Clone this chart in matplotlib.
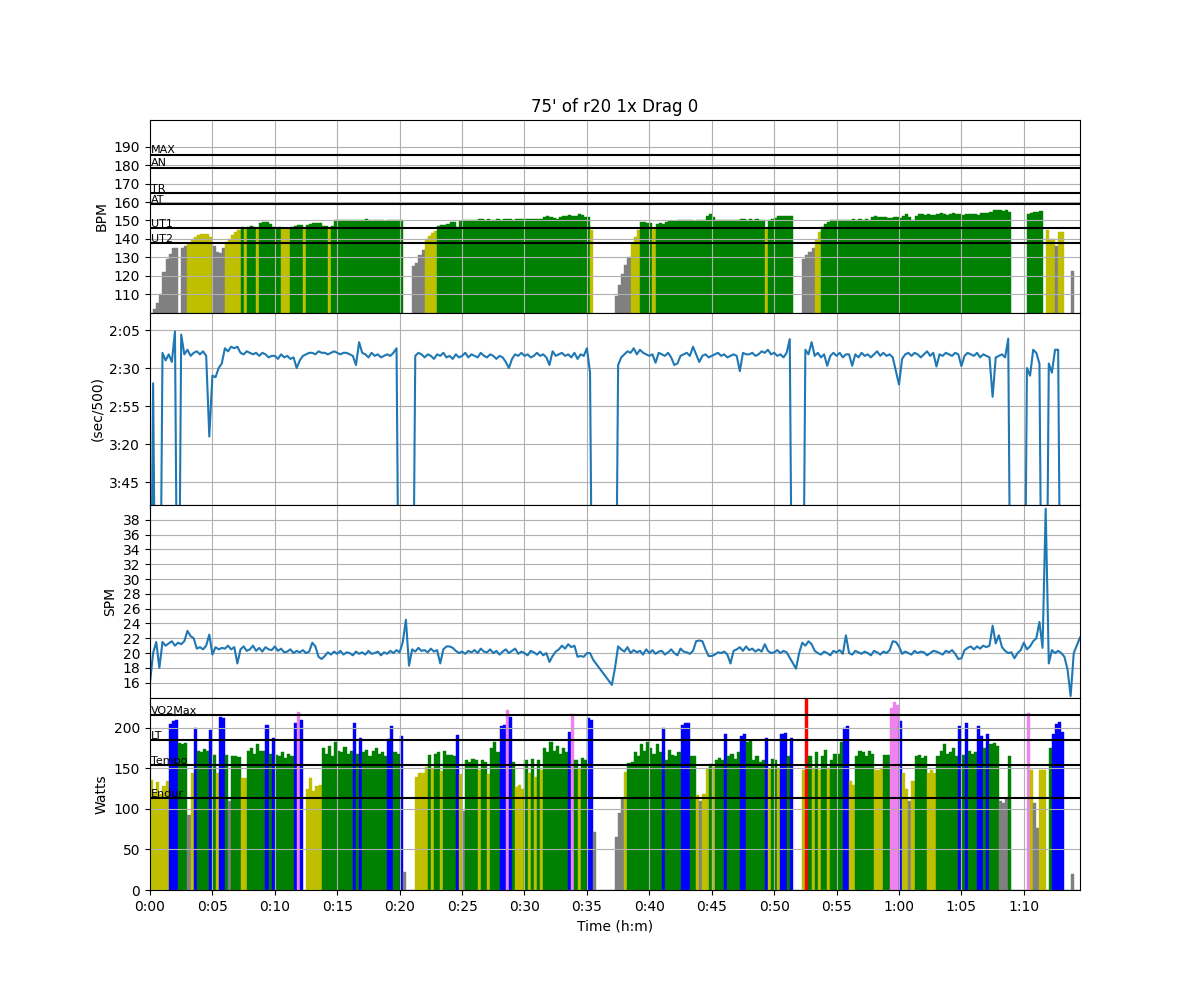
import numpy as np
import matplotlib
matplotlib.use('Agg')
import matplotlib.pyplot as plt
from matplotlib.ticker import FuncFormatter

nan = np.nan
dt = 15  # seconds between samples

# heart rate, 4 samples per minute, one group per minute
hr_rows = [
    [0, 102, 105, 110], [122, 129, 132, 135], [135, 0, 135, 136], [138, 140, 141, 142], [142.5, 142.5, 142.5, 141],
    [136, 133, 132.5, 135], [138.5, 140, 142, 144], [145, 146.5, 145.5, 146.7], [147, 146.5, 145.5, 148.5], [149, 149, 148, 146.5],
    [146, 146.2, 145.5, 145.5], [145.4, 146.5, 147, 147.5], [147.5, 145.5, 147.5, 148], [148.5, 148.5, 148.5, 147], [147, 145.5, 147, 150],
    [150, 150.5, 150, 150.3], [150.5, 150, 150.5, 150.3], [150.2, 150.6, 150, 150.5], [150.5, 150.3, 150, 149.5], [150, 150.3, 150.5, 150.2],
    [150, 0, 0, 0], [125, 127, 131, 134], [140, 141.5, 143, 144.5], [147, 147.5, 147.5, 148], [149.4, 149.4, 146.5, 149.5],
    [150, 150, 150, 150], [150.5, 151, 150.6, 150.5], [150.6, 150.4, 150.5, 150.6], [150.5, 150.7, 151, 150.6], [150.5, 150.7, 151, 150.8],
    [151, 150.8, 150.9, 151], [151, 150.8, 152, 152.5], [152, 151.5, 151, 152], [152.5, 152.5, 153, 152.5], [152.5, 153.3, 152.8, 152],
    [152, 145, 0, 0], [0, 0, 0, 0], [0, 109, 115, 121], [126, 130, 138, 141], [145, 149, 149, 148.5],
    [148.5, 145.5, 148, 148.5], [148, 149, 149.5, 149.5], [149.5, 150, 150, 150], [150, 150, 149.5, 150], [150.5, 150.5, 152.5, 153.3],
    [152, 150.5, 150, 150], [150.5, 150, 150.5, 150.5], [150.2, 150.6, 150.8, 150.5], [151, 150.3, 150.8, 150.4], [150, 145.5, 150.5, 151],
    [151.5, 152.4, 152.4, 152.4], [152.4, 152.2, 0, 0], [0, 129, 131, 133], [135, 140, 144, 146.5], [148, 149, 150, 150.5],
    [150.5, 150, 150.5, 150.3], [150.5, 151, 150.5, 150.6], [150.5, 150.8, 150.5, 152], [152.2, 152, 151.8, 152], [151.5, 151.6, 152, 151.8],
    [151.5, 152.5, 153.5, 152], [150.5, 152.5, 153.5, 153.3], [153, 153.5, 153.2, 153], [153.5, 153.8, 153.5, 153], [153.4, 153.8, 153.6, 153.5],
    [153, 153.5, 153.7, 153.4], [153.5, 153.2, 154, 153.8], [154, 154.5, 155.5, 155.6], [155.8, 155.3, 155.5, 154.5], [0, 0, 0, 0],
    [0, 153.5, 154, 154.5], [154.5, 155, 0, 145], [140, 140, 136, 143.5], [143.5, 0, 0, 122.5], [0, 0, 0],
]

# pace in seconds per 500 m (400 = stopped, off the axis)
pace_rows = [
    [400, 160, 400, 400], [140, 145, 141, 146], [126, 400, 128, 141], [138, 142, 140, 139], [141, 139, 142, 195],
    [155, 156, 150, 147], [137, 139, 136, 137], [136, 140, 141, 139], [140, 141, 140, 142], [140, 141, 143, 142],
    [142, 144, 141, 143], [142, 144, 143, 150], [145, 142, 141, 140], [140, 141, 139, 140], [140, 141, 140, 139],
    [140, 141, 140, 140], [141, 142, 148, 133], [140, 141, 143, 140], [142, 141, 143, 142], [141, 142, 140, 137],
    [400, 400, 400, 400], [400, 142, 140, 141], [143, 141, 142, 144], [141, 142, 140, 143], [142, 144, 141, 143],
    [142, 140, 143, 141], [142, 143, 140, 142], [143, 141, 142, 144], [142, 143, 146, 150], [144, 141, 142, 140],
    [142, 141, 143, 142], [140, 142, 141, 143], [148, 139, 142, 141], [140, 142, 141, 143], [140, 144, 141, 142],
    [137, 153, 400, 400], [400, 400, 400, 400], [400, 400, 148, 143], [141, 139, 140, 137], [141, 138, 140, 141],
    [142, 141, 146.5, 140], [141, 142, 140, 143], [148, 147, 142, 141], [140, 142, 136, 141], [146, 142, 141, 143],
    [142, 141, 140, 142], [141, 143, 142, 141], [142, 152, 140, 141], [141, 140, 142, 141], [139, 140, 138, 141],
    [140, 142, 141, 143], [140, 131, 400, 400], [400, 400, 138, 141], [133, 142, 140, 143], [141, 148.5, 142, 140],
    [142, 140, 143, 141], [141, 148.5, 141, 143], [140, 142, 141, 143], [141, 139, 142, 140], [142, 141, 143, 152],
    [160.8, 144, 141, 140], [142, 140, 141, 143], [141, 139, 142, 140], [149, 141, 142, 140], [141, 142, 140, 141],
    [148.7, 142, 140, 141], [142, 140, 143, 141], [142, 143, 168.9, 143], [142, 141, 143, 130.7], [400, 400, 400, 400],
    [400, 150, 155, 138], [140, 147, 400, 400], [147, 153, 138, 138], [400, 400, 400, 400], [400, 400, 400],
]

# stroke rate
spm_rows = [
    [16, 20, 21.5, 18], [21.5, 21, 21.3, 21.6], [21, 21.4, 21.2, 21.6], [23, 22.3, 22, 20.6], [20.8, 20.5, 21, 22.5],
    [19.8, 20.8, 20.5, 20.7], [20.6, 21, 20.5, 20.8], [18.6, 20.5, 20.9, 20.3], [20.5, 21, 20.3, 20.7], [20.2, 20.8, 20.5, 20.4],
    [20.9, 20.3, 20.6, 20.1], [20.2, 20.5, 20.0, 20.3], [20.1, 20.4, 20.0, 20.2], [21.4, 20.9, 19.5, 19.2], [19.6, 20.1, 19.8, 20.2],
    [19.9, 20.3, 19.8, 20.1], [20, 19.7, 20.2, 19.9], [20.1, 19.8, 20.3, 19.9], [20, 20.2, 19.7, 20.1], [19.9, 20.3, 20, 20.4],
    [20.1, 21.5, 24.5, 18.3], [20.5, 20.2, 20.7, 20.3], [20.4, 20.1, 20.6, 20.2], [20.4, 18.6, 20.5, 20.9], [20.9, 20.7, 20.3, 20.0],
    [20.2, 19.9, 20.3, 20.1], [20.4, 20.0, 20.6, 20.2], [20.1, 20.5, 20.0, 20.3], [19.8, 20.2, 20.5, 20.0], [20.3, 20.6, 19.9, 20.2],
    [20.0, 19.7, 20.3, 20.1], [19.8, 20.2, 19.7, 20.0], [18.8, 19.6, 20.2, 20.5], [21, 20.6, 21.2, 20.8], [21, 19.5, 19.6, 19.5],
    [20, 20, 19.1, nan], [nan, nan, nan, nan], [15.7, 18.0, 20.9, 20.5], [20.2, 20.8, 20.0, 20.4], [20.1, 20.3, 19.8, 20.5],
    [20.0, 20.4, 19.9, 20.2], [20.3, 19.8, 20.1, 20.5], [20.0, 19.7, 20.6, 20.2], [20.1, 19.9, 20.3, 21.6], [21.7, 21.6, 20.5, 19.6],
    [19.6, 19.8, 20.1, 20.0], [20.2, 19.8, 18.6, 20.3], [20.5, 20.8, 20.3, 20.9], [20.4, 20.6, 20.2, 20.5], [20.2, 21.2, 20.3, 20.0],
    [20.1, 20.4, 20.0, 20.3], [20.1, nan, nan, 17.9], [20.0, 21.4, 21.0, 21.6], [21.2, 20.3, 20.0, 19.8], [20.2, 20.0, 19.7, 20.3],
    [20.1, 20.4, 19.9, 22.4], [20.0, 19.8, 20.3, 20.1], [19.9, 20.2, 20.0, 19.7], [20.3, 20.1, 19.8, 20.2], [20.0, 20.4, 21.6, 21.5],
    [20.9, 19.9, 20.2, 20.0], [19.8, 20.3, 20.0, 20.2], [20.1, 19.7, 20.0, 20.3], [20.2, 20.0, 19.8, 20.3], [20.1, 20.4, 19.9, 19.2],
    [19.3, 20.4, 20.7, 20.9], [20.5, 20.9, 20.6, 21.0], [20.8, 21.0, 23.7, 21.3], [22.4, 20.8, 20.3, 20.0], [20.1, 19.3, 20.0, 20.4],
    [21.4, 20.5, 20.9, 21.6], [22.0, 24.2, 20.7, 39.5], [18.6, 20.4, 20.0, 20.3], [20.0, 19.5, 17.8, 14.2], [20.0, nan, 22.1],
]

# power in watts
power_rows = [
    [136, 120, 133, 118], [128, 135, 205, 208], [210, 181, 180, 182], [93, 144, 200, 172], [170, 174, 171, 198],
    [167, 145, 213, 212], [167, 110, 165, 166], [164, 138, 138, 172], [175, 168, 180, 171], [172, 204, 168, 187],
    [167, 165, 170, 163], [168, 166, 206, 220], [210, 0, 125, 138], [122, 128, 130, 175], [168, 178, 165, 183],
    [172, 170, 176, 168], [172, 206, 168, 187], [170, 173, 166, 172], [175, 168, 170, 165], [186, 202, 170, 168],
    [190, 22, 0, 0], [0, 140, 145, 144], [152, 167, 150, 168], [170, 147, 172, 167], [167, 165, 191, 143],
    [97, 161, 158, 162], [160, 148, 161, 158], [143, 175, 183, 170], [202, 204, 222, 213], [158, 127, 130, 125],
    [160, 145, 162, 140], [160, 148, 175, 170], [183, 172, 178, 168], [175, 170, 195, 217], [161, 150, 163, 160],
    [212, 210, 71, 0], [0, 0, 0, 0], [0, 66, 95, 113], [146, 157, 158, 170], [165, 180, 172, 183],
    [175, 168, 180, 170], [200, 161, 173, 167], [165, 170, 204, 206], [206, 165, 165, 117], [110, 118, 150, 155],
    [152, 161, 163, 160], [193, 165, 168, 162], [170, 190, 192, 183], [185, 160, 165, 158], [161, 188, 150, 162],
    [161, 150, 193, 194], [165, 188, 0, 0], [0, 148, 300, 165], [150, 170, 148, 165], [173, 150, 161, 168],
    [168, 183, 200, 202], [135, 130, 165, 172], [170, 165, 172, 168], [148, 148, 150, 167], [167, 225, 232, 228],
    [208, 145, 125, 110], [135, 165, 167, 163], [165, 145, 148, 145], [165, 172, 180, 168], [170, 175, 165, 202],
    [167, 206, 172, 168], [170, 202, 190, 175], [192, 180, 182, 178], [110, 108, 112, 165], [0, 0, 0, 0],
    [0, 218, 148, 108], [77, 148, 148, 0], [175, 193, 205, 207], [195, 0, 0, 20], [0, 0, 0],
]

hr = np.array([v for row in hr_rows for v in row], dtype=float)
pace = np.array([v for row in pace_rows for v in row], dtype=float)
spm = np.array([v for row in spm_rows for v in row], dtype=float)
power = np.array([v for row in power_rows for v in row], dtype=float)
t = np.arange(len(hr)) * dt

# zones
hr_lines = [137.5, 145.8, 158.7, 164.8, 178.7, 185.7]
hr_names = ['UT2', 'UT1', 'AT', 'TR', 'AN', 'MAX']
pw_lines = [113.3, 154.5, 185.4, 216.3]
pw_names = ['Endur', 'Tempo', 'LT', 'VO2Max']
pw_limits = pw_lines + [247.2]
zone_colors = ['gray', 'y', 'g', 'blue', 'violet', 'red']


def zone_bars(ax, vals, limits):
    idx = np.searchsorted(limits, vals, side='right')
    cols = [zone_colors[i] for i in idx]
    ax.bar(t, vals, width=dt, align='edge', color=cols, edgecolor=cols, linewidth=0.3)


def fmt_pace(v, pos):
    return '%d:%02d' % (v // 60, v % 60)


def fmt_time(v, pos):
    return '%d:%02d' % (v // 3600, (v % 3600) // 60)


fig, (ax1, ax2, ax3, ax4) = plt.subplots(4, 1, figsize=(12, 10), sharex=True)
fig.subplots_adjust(hspace=0)

# heart rate
zone_bars(ax1, hr, hr_lines[:5])
for val, name in zip(hr_lines, hr_names):
    ax1.axhline(val, color='k', lw=1.5)
    ax1.text(5, val + 0.8, name, fontsize=8)
ax1.set_ylim(100, 204.6)
ax1.set_yticks(np.arange(110, 200, 10))
ax1.set_ylabel('BPM')
ax1.set_title("75' of r20 1x Drag 0")
ax1.grid(True)

# pace
ax2.plot(t, pace)
ax2.set_ylim(240, 113.5)
ax2.set_yticks([125, 150, 175, 200, 225])
ax2.yaxis.set_major_formatter(FuncFormatter(fmt_pace))
ax2.set_ylabel('(sec/500)')
ax2.grid(True)

# stroke rate
ok = np.isfinite(spm)
ax3.plot(t[ok], spm[ok])
ax3.set_ylim(14, 40)
ax3.set_yticks(np.arange(16, 40, 2))
ax3.set_ylabel('SPM')
ax3.grid(True)

# power
zone_bars(ax4, power, pw_limits)
for val, name in zip(pw_lines, pw_names):
    ax4.axhline(val, color='k', lw=1.5)
    ax4.text(5, val + 1.5, name, fontsize=8)
ax4.set_ylim(0, 237.6)
ax4.set_ylabel('Watts')
ax4.grid(True)

ax4.set_xlim(0, 4470)
ax4.set_xticks(np.arange(0, 4471, 300))
ax4.xaxis.set_major_formatter(FuncFormatter(fmt_time))
ax4.set_xlabel('Time (h:m)')

fig.savefig('out.png', dpi=100)
